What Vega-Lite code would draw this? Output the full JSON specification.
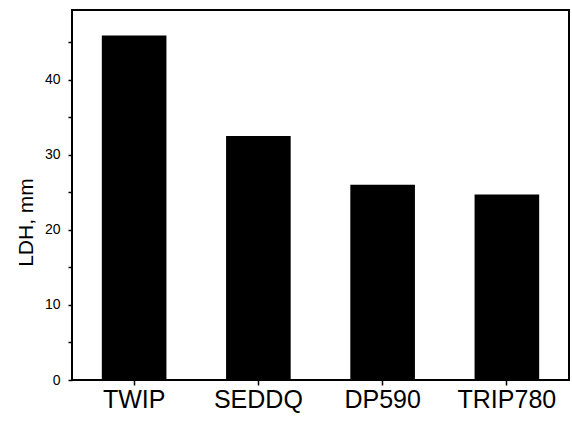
{
  "$schema": "https://vega.github.io/schema/vega-lite/v6.json",
  "width": 497,
  "height": 370,
  "autosize": {"type": "none"},
  "padding": {"left": 72, "top": 10, "right": 3, "bottom": 41},
  "background": "white",
  "data": {"values": [
    {"steel": "TWIP", "LDH": 45.9},
    {"steel": "SEDDQ", "LDH": 32.5},
    {"steel": "DP590", "LDH": 26.0},
    {"steel": "TRIP780", "LDH": 24.7}
  ]},
  "config": {
    "view": {"stroke": "black", "strokeWidth": 2},
    "font": "Liberation Sans"
  },
  "mark": {"type": "bar", "color": "black"},
  "encoding": {
    "x": {
      "field": "steel", "type": "nominal", "sort": null,
      "scale": {"paddingInner": 0.48, "paddingOuter": 0.24},
      "axis": {
        "title": null, "labelAngle": 0, "labelFontSize": 25, "labelColor": "black",
        "domain": false, "tickColor": "black", "tickSize": 5, "tickWidth": 1.5,
        "labelPadding": 2
      }
    },
    "y": {
      "field": "LDH", "type": "quantitative",
      "scale": {"domain": [0, 49.3], "nice": false},
      "axis": {
        "title": "LDH, mm", "titleFontSize": 21, "titleFontWeight": "normal", "titleColor": "black",
        "titlePadding": 8, "titleY": 212,
        "values": [0, 5, 10, 15, 20, 25, 30, 35, 40, 45],
        "labelExpr": "datum.value % 10 === 0 ? datum.label : ''",
        "labelFontSize": 14, "labelColor": "black", "labelPadding": 8,
        "grid": false, "domain": false, "tickColor": "black", "tickSize": 4, "tickWidth": 1.5
      }
    }
  }
}
